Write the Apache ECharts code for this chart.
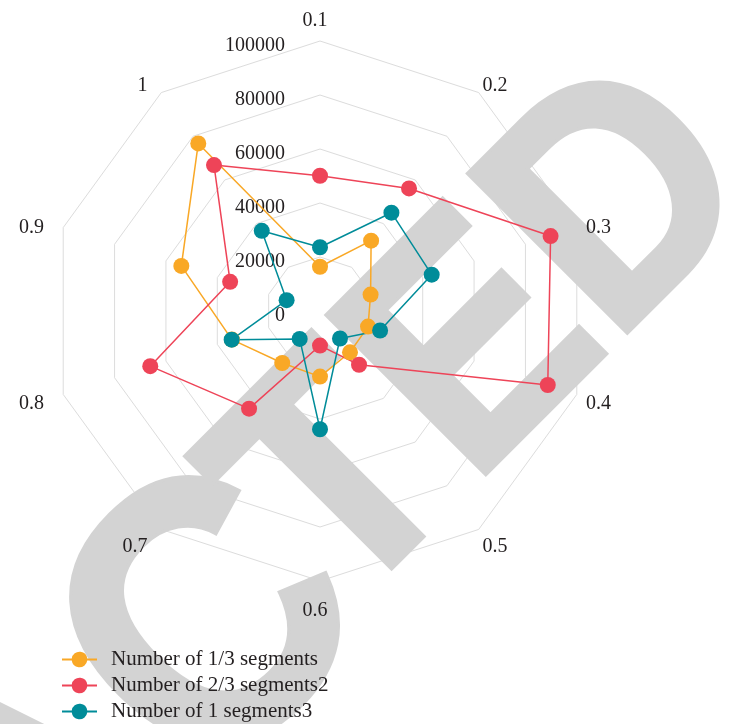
<!DOCTYPE html>
<html>
<head>
<meta charset="utf-8">
<script src="https://cdn.jsdelivr.net/npm/echarts@6/dist/echarts.min.js"></script>
<style>
html,body{margin:0;padding:0;background:#fff;}
#main{width:734px;height:724px;}
</style>
</head>
<body>
<div id="main"></div>
<script>
// categories (clockwise from top)
var categories = ['0.1','0.2','0.3','0.4','0.5','0.6','0.7','0.8','0.9','1'];
var seriesNames = ['Number of 1/3 segments','Number of 2/3 segments2','Number of 1 segments3'];
var seg13 = [16400, 32200, 19700, 18700, 18900, 24300, 23800, 34300, 54000, 76700];
var seg23 = [50100, 56100, 89800, 88700, 24600, 12800, 44700, 66100, 35000, 66800];
var seg1  = [23600, 45000, 43500, 23400, 12600, 43800, 12800, 34400, 13000, 36700];
var axisMax = 100000;
var colors = ['#F9A826', '#EE4458', '#008C99'];
var watermarkParts = ['RETRAC', 'TED']; // "RETRACTED"

// ECharts places indicators counter-clockwise; reorder to draw them clockwise
function cw(arr){ return [arr[0]].concat(arr.slice(1).reverse()); }

var serifFont = '"Liberation Serif", "Times New Roman", serif';
var legendIcon = 'path://M0,7H10.06A8,8,0,0,1,25.94,7H36V9H25.94A8,8,0,0,1,10.06,9H0Z';

var indicatorGrid = cw(categories).map(function(c){ return {name: c, max: axisMax, min: 0}; });
var indicatorText = cw(categories).map(function(c, i){
  var o = {name: c, max: axisMax, min: 0};
  if (i > 0) o.axisLabel = {show: false};
  return o;
});

function wmText(text, x, y, size){
  return {
    type: 'text', z: 1, x: x, y: y,
    rotation: Math.PI / 4, scaleX: 1, scaleY: 1.08, silent: true,
    style: {
      text: text,
      font: 'bold ' + size + 'px "Liberation Sans", Arial, sans-serif',
      fill: '#d3d3d3', stroke: '#d3d3d3', lineWidth: 6,
      align: 'right', textAlign: 'right',
      verticalAlign: 'middle', textVerticalAlign: 'middle'
    }
  };
}

var allData = [seg13, seg23, seg1];
var chart = echarts.init(document.getElementById('main'), null, {renderer: 'canvas'});
chart.setOption({
  animation: false,
  backgroundColor: '#fff',
  color: colors,
  radar: [
    {
      center: [320, 311], radius: 270, startAngle: 90, splitNumber: 5, shape: 'polygon',
      z: 0,
      indicator: indicatorGrid,
      axisName: {show: false},
      axisLine: {show: false},
      axisTick: {show: false},
      axisLabel: {show: false},
      splitArea: {show: false},
      splitLine: {show: true, lineStyle: {color: '#dcdcdc', width: 1}}
    },
    {
      center: [315, 316], radius: 270, startAngle: 90, splitNumber: 5, shape: 'polygon',
      z: 3,
      indicator: indicatorText,
      nameGap: 15,
      axisName: {show: true, color: '#231f20', fontFamily: serifFont, fontSize: 20},
      axisLine: {show: false},
      axisTick: {show: false},
      axisLabel: {show: true, margin: 30, color: '#231f20', fontFamily: serifFont, fontSize: 20,
        formatter: function(v){ return String(v); }},
      splitArea: {show: false},
      splitLine: {show: false}
    }
  ],
  graphic: [{
    z: 1,
    elements: [
      wmText(watermarkParts[0], 308, 544, 350),
      wmText(watermarkParts[1], 703, 129, 300)
    ]
  }],
  legend: {
    orient: 'vertical',
    left: 62,
    bottom: 2,
    padding: 0,
    itemGap: 5,
    itemWidth: 35,
    itemHeight: 16,
    textStyle: {color: '#231f20', fontFamily: serifFont, fontSize: 21, padding: [0, 0, 0, 9]},
    data: seriesNames.map(function(n){ return {name: n, icon: legendIcon}; })
  },
  series: [{
    type: 'radar',
    radarIndex: 0,
    z: 4,
    symbol: 'circle',
    symbolSize: 16,
    data: allData.map(function(d, i){
      return {
        name: seriesNames[i],
        value: cw(d),
        itemStyle: {color: colors[i]},
        lineStyle: {color: colors[i], width: 1.5},
        areaStyle: null
      };
    })
  }]
});
</script>
</body>
</html>
